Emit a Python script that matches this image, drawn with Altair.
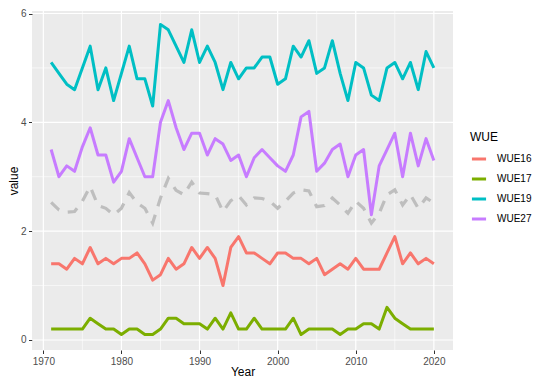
import altair as alt
import pandas as pd

years = list(range(1971, 2021))

wue16 = [1.4, 1.4, 1.3, 1.5, 1.4, 1.7, 1.4, 1.5, 1.4, 1.5,
         1.5, 1.6, 1.4, 1.1, 1.2, 1.5, 1.3, 1.4, 1.7, 1.5,
         1.7, 1.5, 1.0, 1.7, 1.9, 1.6, 1.6, 1.5, 1.4, 1.6,
         1.6, 1.5, 1.5, 1.4, 1.5, 1.2, 1.3, 1.4, 1.3, 1.5,
         1.3, 1.3, 1.3, 1.6, 1.9, 1.4, 1.6, 1.4, 1.5, 1.4]
wue17 = [0.2, 0.2, 0.2, 0.2, 0.2, 0.4, 0.3, 0.2, 0.2, 0.1,
         0.2, 0.2, 0.1, 0.1, 0.2, 0.4, 0.4, 0.3, 0.3, 0.3,
         0.2, 0.4, 0.2, 0.5, 0.2, 0.2, 0.4, 0.2, 0.2, 0.2,
         0.2, 0.4, 0.1, 0.2, 0.2, 0.2, 0.2, 0.1, 0.2, 0.2,
         0.3, 0.3, 0.2, 0.6, 0.4, 0.3, 0.2, 0.2, 0.2, 0.2]
wue19 = [5.1, 4.9, 4.7, 4.6, 5.0, 5.4, 4.6, 5.0, 4.4, 4.9,
         5.4, 4.8, 4.8, 4.3, 5.8, 5.7, 5.4, 5.1, 5.7, 5.1,
         5.4, 5.1, 4.6, 5.1, 4.8, 5.0, 5.0, 5.2, 5.2, 4.7,
         4.8, 5.4, 5.2, 5.5, 4.9, 5.0, 5.5, 4.9, 4.4, 5.1,
         5.0, 4.5, 4.4, 5.0, 5.1, 4.8, 5.1, 4.6, 5.3, 5.0]
wue27 = [3.5, 3.0, 3.2, 3.1, 3.55, 3.9, 3.4, 3.4, 2.9, 3.1,
         3.7, 3.35, 3.0, 3.0, 4.0, 4.4, 3.9, 3.5, 3.8, 3.8,
         3.4, 3.7, 3.6, 3.3, 3.4, 3.0, 3.35, 3.5, 3.35, 3.2,
         3.1, 3.4, 4.1, 4.2, 3.1, 3.25, 3.5, 3.6, 3.0, 3.4,
         3.5, 2.3, 3.2, 3.5, 3.8, 3.0, 3.8, 3.2, 3.7, 3.3]
grey_dashed = [2.53, 2.39, 2.35, 2.36, 2.55, 2.82, 2.47, 2.42, 2.30, 2.42,
               2.71, 2.52, 2.42, 2.15, 2.61, 2.97, 2.75, 2.67, 2.90, 2.70,
               2.69, 2.67, 2.36, 2.56, 2.65, 2.48, 2.61, 2.60, 2.55, 2.42,
               2.55, 2.70, 2.76, 2.74, 2.45, 2.47, 2.61, 2.48, 2.33, 2.55,
               2.42, 2.15, 2.33, 2.67, 2.76, 2.48, 2.67, 2.42, 2.61, 2.52]

series_names = ["WUE16", "WUE17", "WUE19", "WUE27"]
series_colors = ["#F8766D", "#7CAE00", "#00BFC4", "#C77CFF"]
series_values = [wue16, wue17, wue19, wue27]

x_major = [1970, 1980, 1990, 2000, 2010, 2020]
x_minor = [1975, 1985, 1995, 2005, 2015]
y_major = [0, 2, 4, 6]
y_minor = [1, 3, 5]

rows = []
for name, vals in zip(series_names, series_values):
    for yr, v in zip(years, vals):
        rows.append({"Year": yr, "value": v, "WUE": name})
df = pd.DataFrame(rows)
grey_df = pd.DataFrame({"Year": years, "value": grey_dashed})

FONT = "Liberation Sans"
xs = alt.Scale(domain=[1968.55, 2022.45], nice=False, zero=False)
ys = alt.Scale(domain=[-0.184, 6.046], nice=False, zero=False)

xaxis = alt.Axis(values=x_major, title="Year", format="d", titlePadding=0)
yaxis = alt.Axis(values=y_major, title="value", format="d", titlePadding=0)

X = alt.X("Year:Q", scale=xs, axis=xaxis)
Y = alt.Y("value:Q", scale=ys, axis=yaxis)

xgrid_minor = alt.Chart(pd.DataFrame({"Year": x_minor})).mark_rule(
    color="white", strokeWidth=0.6).encode(x=X)
xgrid_major = alt.Chart(pd.DataFrame({"Year": x_major})).mark_rule(
    color="white", strokeWidth=1.2).encode(x=X)
ygrid_minor = alt.Chart(pd.DataFrame({"value": y_minor})).mark_rule(
    color="white", strokeWidth=0.6).encode(y=Y)
ygrid_major = alt.Chart(pd.DataFrame({"value": y_major})).mark_rule(
    color="white", strokeWidth=1.2).encode(y=Y)

grey_line = alt.Chart(grey_df).mark_line(
    color="#BEBEBE", strokeWidth=3.2, strokeDash=[11, 9], strokeCap="butt"
).encode(x=X, y=Y)

lines = alt.Chart(df).mark_line(strokeWidth=3, strokeJoin="round").encode(
    x=X,
    y=Y,
    color=alt.Color("WUE:N",
                    scale=alt.Scale(domain=series_names, range=series_colors),
                    legend=alt.Legend(title="WUE", orient="none",
                                      legendX=438, legendY=121,
                                      symbolType="stroke", symbolStrokeWidth=3,
                                      symbolSize=200, labelOffset=9,
                                      titlePadding=6, rowPadding=5, padding=0)),
    detail="WUE:N",
)

chart = alt.layer(
    xgrid_minor, ygrid_minor, xgrid_major, ygrid_major, grey_line, lines
).properties(
    width=421, height=339,
    autosize=alt.AutoSizeParams(type="none"),
    padding={"left": 24, "top": 3, "right": 79, "bottom": 28},
).configure_view(
    fill="#EBEBEB", stroke=None
).configure_axis(
    domain=False, grid=False, ticks=True, tickColor="#333333", tickSize=3.5,
    tickWidth=1, labelColor="#4D4D4D", labelFontSize=10, labelFont=FONT,
    labelPadding=2.5, titleFont=FONT, titleFontSize=12, titleFontWeight="normal",
    titleColor="#000000"
).configure_legend(
    titleFont=FONT, titleFontSize=12, titleFontWeight="normal", titleColor="#000000",
    labelFont=FONT, labelFontSize=10, labelColor="#000000"
)

chart.save("out.html", embed_options={"renderer": "svg", "actions": False})
